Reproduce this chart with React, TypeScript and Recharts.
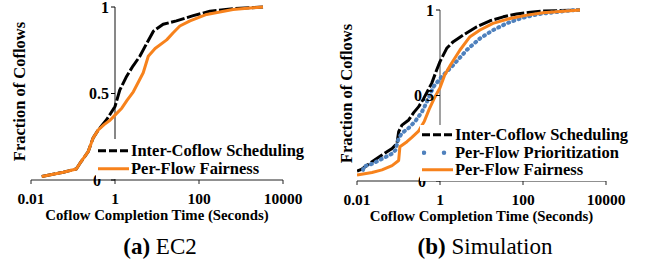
import React from 'react';
import { LineChart, Line, XAxis, YAxis, ReferenceLine, ReferenceDot, Legend } from 'recharts';

const FONT = "'Liberation Serif', 'Times New Roman', Times, serif";

// ---- axis ticks ----
const xTicks = [0.01, 1, 100, 10000];
const xTickLabels = ['0.01', '1', '100', '10000'];
const yTicks = [0, 0.5, 1];
const yTickLabels = ['0', '0.5', '1'];

// ---- series names (legend order) ----
const INTER = 'Inter-Coflow Scheduling';
const PRIO = 'Per-Flow Prioritization';
const FAIR = 'Per-Flow Fairness';
const legendOrder = [INTER, PRIO, FAIR];

// ---- (a) EC2 : [completion time (s), fraction of coflows] ----
const ec2Inter: [number, number][] = [
  [0.018, 0.02], [0.059, 0.045], [0.12, 0.064], [0.147, 0.097], [0.23, 0.164],
  [0.3, 0.242], [0.4, 0.29], [0.63, 0.348], [1.0, 0.425], [1.3, 0.52], [1.9, 0.6],
  [2.7, 0.66], [3.9, 0.715], [5.7, 0.79], [8.2, 0.86], [14, 0.9], [29, 0.92],
  [73, 0.95], [183, 0.976], [646, 0.99], [3340, 1.0],
];
const ec2Fair: [number, number][] = [
  [0.018, 0.02], [0.059, 0.045], [0.12, 0.064], [0.147, 0.097], [0.23, 0.164],
  [0.3, 0.242], [0.4, 0.29], [0.55, 0.32], [0.76, 0.345], [1.0, 0.375], [1.45, 0.415],
  [1.93, 0.46], [2.73, 0.51], [4.7, 0.62], [6.2, 0.715], [9.0, 0.76], [17, 0.81],
  [24, 0.85], [35, 0.89], [61, 0.92], [152, 0.957], [646, 0.985], [3340, 1.0],
];

// ---- (b) Simulation ----
const simInter: [number, number][] = [
  [0.01, 0.058], [0.0132, 0.07], [0.023, 0.113], [0.04, 0.152], [0.07, 0.19],
  [0.092, 0.22], [0.101, 0.288], [0.121, 0.327], [0.176, 0.357], [0.232, 0.4],
  [0.307, 0.435], [0.4, 0.48], [0.63, 0.571], [0.83, 0.649], [1.0, 0.698],
  [1.45, 0.776], [2.09, 0.815], [3.64, 0.854], [7.7, 0.902], [16, 0.937],
  [33.5, 0.96], [70, 0.977], [134, 0.985], [303, 0.994], [2360, 1.0],
];
const simPrio: [number, number][] = [
  [0.014, 0.065], [0.0145, 0.085], [0.023, 0.1], [0.04, 0.13], [0.07, 0.16],
  [0.084, 0.18], [0.101, 0.25], [0.121, 0.28], [0.176, 0.31], [0.254, 0.35],
  [0.368, 0.405], [0.486, 0.464], [0.69, 0.55], [1.1, 0.61], [2.09, 0.678],
  [4.4, 0.766], [9.2, 0.834], [19.2, 0.883], [40.5, 0.922], [85, 0.95],
  [177, 0.97], [257, 0.977], [590, 0.987], [1790, 1.0],
];
const simFair: [number, number][] = [
  [0.01, 0.035], [0.023, 0.05], [0.04, 0.065], [0.07, 0.09], [0.101, 0.12],
  [0.108, 0.2], [0.16, 0.23], [0.21, 0.255], [0.3, 0.29], [0.42, 0.35],
  [0.55, 0.42], [0.75, 0.49], [1.0, 0.545], [1.3, 0.62], [1.8, 0.68], [3.03, 0.766],
  [5.28, 0.844], [9.2, 0.883], [18.9, 0.922], [48.6, 0.95], [125, 0.97],
  [303, 0.984], [2360, 1.0],
];

// ---- labels ----
const yAxisTitle = 'Fraction of Coflows';
const xAxisTitle = 'Coflow Completion Time (Seconds)';

// ---- styles ----
const seriesStyle: Record<string, any> = {
  [INTER]: { stroke: '#000000', width: 3, dash: '14 2.5', cap: 'butt', legendDash: '8 3', legendCap: 'butt', legendWidth: 3 },
  [PRIO]: { stroke: '#4f81bd', width: 4, dash: '1 4.5', cap: 'round', legendDash: '0 20', legendCap: 'round', legendWidth: 4.5 },
  [FAIR]: { stroke: '#f7821c', width: 3, dash: undefined, cap: 'butt', legendDash: undefined, legendCap: 'butt', legendWidth: 3 },
};

const toPoints = (pairs: [number, number][]) => pairs.map(([x, y]) => ({ x, y }));

const makeLegend = (padTop: number) => (props: any) => {
  const payload = [...(props.payload || [])].sort(
    (a: any, b: any) => legendOrder.indexOf(a.value) - legendOrder.indexOf(b.value)
  );
  return (
    <div style={{ background: '#fff', paddingTop: padTop, paddingBottom: 2, paddingLeft: 2, paddingRight: 4 }}>
      {payload.map((entry: any) => {
        const st = seriesStyle[entry.value];
        return (
          <div key={entry.value} style={{ display: 'flex', alignItems: 'center', height: 17.5, whiteSpace: 'nowrap' }}>
            <svg width={31} height={17.5} style={{ display: 'block' }}>
              <line x1={st.legendCap === 'round' ? 2 : 0} y1={8.75} x2={31} y2={8.75} stroke={st.stroke}
                strokeWidth={st.legendWidth} strokeDasharray={st.legendDash} strokeLinecap={st.legendCap} />
            </svg>
            <span style={{ fontFamily: FONT, fontWeight: 'bold', fontSize: 16.5, color: '#000', marginLeft: 2, lineHeight: '17.5px' }}>
              {entry.value}
            </span>
          </div>
        );
      })}
    </div>
  );
};

const yTickShape = (label: string, extra: number) => (p: any) => (
  <g>
    <line x1={p.cx - 4} y1={p.cy} x2={p.cx} y2={p.cy} stroke="#000" strokeWidth={1} />
    <text x={p.cx - 6 - extra} y={p.cy} textAnchor="end" dominantBaseline="central"
      style={{ fontFamily: FONT, fontWeight: 'bold', fontSize: 16 }} fill="#000">{label}</text>
  </g>
);

type Series = { name: string; data: [number, number][] };

const Panel = ({ series, top, yAxisWidth, right, height, legendTop, legendPad, axisColor, yLabelX }: any) => (
  <LineChart width={324} height={height} margin={{ top, right, bottom: 0, left: 0 }}>
    <XAxis
      type="number"
      dataKey="x"
      scale="log"
      domain={[0.01, 10000]}
      allowDataOverflow
      ticks={xTicks}
      interval={0}
      tickFormatter={(v: number) => xTickLabels[xTicks.indexOf(v)] ?? String(v)}
      tickSize={4}
      tickMargin={9}
      height={50}
      stroke="#000"
      axisLine={{ stroke: '#222', strokeWidth: 1 }}
      tickLine={{ stroke: '#222', strokeWidth: 1 }}
      tick={{ fontFamily: FONT, fontWeight: 'bold', fontSize: 15.5, fill: '#000' }}
      label={{
        content: (lp: any) => {
          const vb = lp.viewBox || {};
          return (
            <text x={vb.x + vb.width / 2} y={vb.y + 39.5} textAnchor="middle" fill="#000"
              style={{ fontFamily: FONT, fontWeight: 'bold', fontSize: 14.8 }}>{xAxisTitle}</text>
          );
        },
      }}
    />
    <YAxis
      type="number"
      domain={[0, 1]}
      width={yAxisWidth}
      tick={false}
      tickLine={false}
      axisLine={false}
      label={{
        content: (lp: any) => {
          const vb = lp.viewBox || {};
          const cx = vb.x + yLabelX;
          const cy = vb.y + vb.height / 2 - 2;
          return (
            <text x={cx} y={cy} textAnchor="middle" transform={`rotate(-90, ${cx}, ${cy})`} fill="#000"
              style={{ fontFamily: FONT, fontWeight: 'bold', fontSize: 16.5 }}>{yAxisTitle}</text>
          );
        },
      }}
    />
    <ReferenceLine x={1} stroke={axisColor} strokeWidth={1} ifOverflow="visible" />
    {yTicks.map((t, i) => (
      <ReferenceDot key={t} x={1} y={t} r={0} ifOverflow="visible"
        shape={yTickShape(yTickLabels[i], t === 0 ? 8 : 0)} />
    ))}
    {series.map((s: Series) => {
      const st = seriesStyle[s.name];
      return (
        <Line
          key={s.name}
          name={s.name}
          data={toPoints(s.data)}
          dataKey="y"
          type="linear"
          stroke={st.stroke}
          strokeWidth={st.width}
          strokeDasharray={st.dash}
          strokeLinecap={st.cap}
          strokeLinejoin="round"
          dot={false}
          activeDot={false}
          isAnimationActive={false}
        />
      );
    })}
    <Legend
      layout="horizontal"
      verticalAlign="middle"
      align="center"
      content={makeLegend(legendPad)}
      wrapperStyle={{ left: 96, top: legendTop, width: 'auto', height: 'auto' }}
    />
  </LineChart>
);

export default function App() {
  return (
    <div style={{ position: 'absolute', left: 0, top: 0, width: 648, height: 259, background: '#fff', overflow: 'hidden' }}>
      <div style={{ position: 'absolute', left: 0, top: 0 }}>
        <Panel
          series={[{ name: INTER, data: ec2Inter }, { name: FAIR, data: ec2Fair }]}
          top={7} yAxisWidth={31} right={41} height={230}
          legendTop={139} legendPad={3.25} axisColor="#111" yLabelX={25}
        />
      </div>
      <div style={{ position: 'absolute', left: 324, top: 0 }}>
        <Panel
          series={[{ name: INTER, data: simInter }, { name: PRIO, data: simPrio }, { name: FAIR, data: simFair }]}
          top={10} yAxisWidth={33} right={42} height={231}
          legendTop={125} legendPad={1.25} axisColor="#444" yLabelX={28}
        />
      </div>
      <div style={{ position: 'absolute', left: 0, top: 235, width: 320, textAlign: 'center', fontFamily: FONT, fontSize: 23, lineHeight: '23px', color: '#000', whiteSpace: 'nowrap' }}>
        <b>(a)</b> EC2
      </div>
      <div style={{ position: 'absolute', left: 324, top: 235, width: 322, textAlign: 'center', fontFamily: FONT, fontSize: 23, lineHeight: '23px', color: '#000', whiteSpace: 'nowrap' }}>
        <b>(b)</b> Simulation
      </div>
    </div>
  );
}
